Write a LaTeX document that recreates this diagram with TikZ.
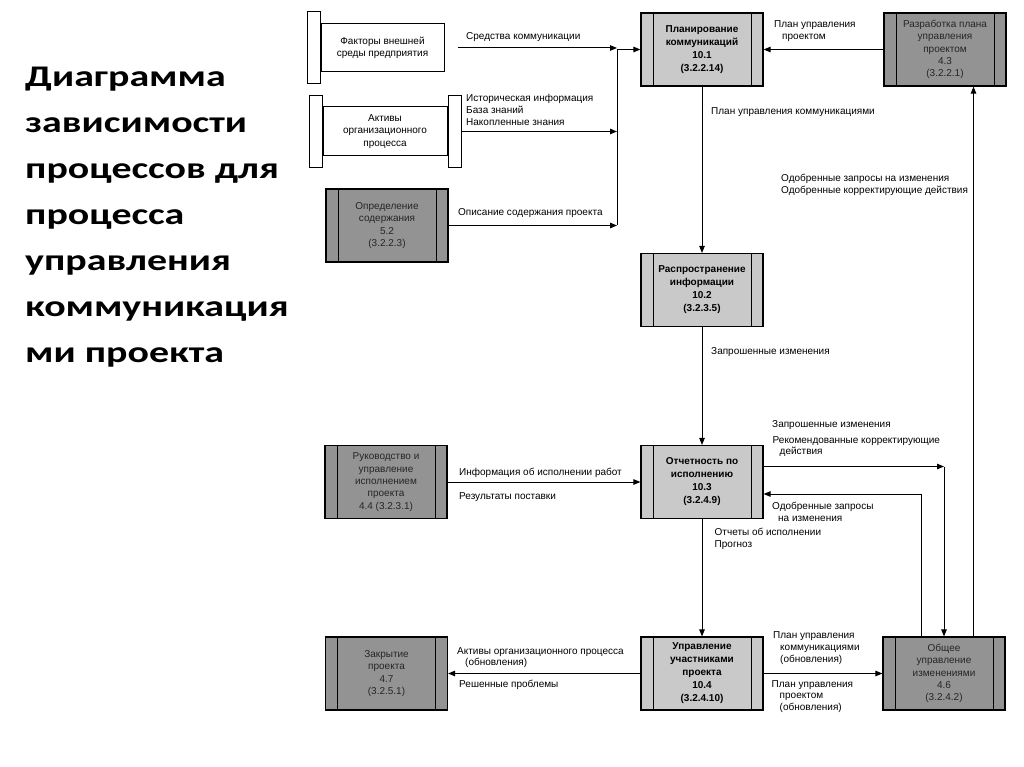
\documentclass[tikz,border=0pt]{standalone}
\usepackage{fontspec}
\setmainfont{Liberation Sans}
\newfontfamily\titlefont[FakeStretch=1.33]{Carlito}
\usetikzlibrary{arrows.meta,positioning}
\definecolor{comlight}{RGB}{201,201,201}
\definecolor{comdark}{RGB}{147,147,147}

\begin{document}
\begin{tikzpicture}[x=1pt, y=-1pt,
                    process/.style = {
                      draw, line width=1.2pt,
                      minimum width=122pt, minimum height=73pt,
                      inner sep=0pt, align=center,
                      path picture={
                        \draw[line width=1pt]
                          ([xshift=12pt]path picture bounding box.north west)
                          -- ([xshift=12pt]path picture bounding box.south west);
                        \draw[line width=1pt]
                          ([xshift=-12pt]path picture bounding box.north east)
                          -- ([xshift=-12pt]path picture bounding box.south east);
                      }
                    },
                    ours/.style = {
                      process, fill=comlight,
                      font=\fontsize{10}{13}\selectfont\bfseries
                    },
                    theirs/.style = {
                      process, fill=comdark, text=black!85,
                      font=\fontsize{10}{12.3}\selectfont
                    },
                    store/.style = {
                      draw, line width=1pt, fill=white,
                      inner sep=0pt, align=center,
                      font=\fontsize{10}{12.3}\selectfont
                    },
                    bar/.style = {
                      draw, line width=1pt, fill=white,
                      minimum width=13pt, minimum height=72pt,
                      inner sep=0pt
                    },
                    flow/.style = {
                      line width=1pt,
                      -{Triangle[length=7pt,width=5.5pt]}
                    },
                    flowtext/.style = {
                      anchor=west, inner sep=0pt, align=left,
                      font=\fontsize{10}{11.8}\selectfont
                    }]
    \useasboundingbox (0,0) rectangle (1024,767);

    \node[anchor=north west, align=left, inner sep=0pt,
          font=\titlefont\bfseries\fontsize{30}{46}\selectfont] (title) at (25,67)
      {Диаграмма\\зависимости\\процессов для\\процесса\\управления\\коммуникация\\ми проекта};

    \node[store, minimum width=123pt, minimum height=48pt] (envf) at (382.5,48)
      {Факторы внешней\\среды предприятия};
    \node[bar, left=0pt of envf] (envbar) {};
    \node[store, minimum width=124pt, minimum height=49pt] (assets) at (385,131.5)
      {Активы\\организационного\\процесса};
    \node[bar, left=0pt of assets] (assetsl) {};
    \node[bar, right=0pt of assets] (assetsr) {};
    \node[theirs] (scope) at (387,225.5) {Определение\\содержания\\5.2\\(3.2.2.3)};
    \node[theirs] (direct) at (386,482) {Руководство и\\управление\\исполнением\\проекта\\4.4 (3.2.3.1)};
    \node[theirs] (close) at (386.5,673.5) {Закрытие\\проекта\\4.7\\(3.2.5.1)};

    \node[ours] (plan) at (702,49.5) {Планирование\\коммуникаций\\10.1\\(3.2.2.14)};
    \node[ours] (distr) at (702,290) {Распространение\\информации\\10.2\\(3.2.3.5)};
    \node[ours] (report) at (702,482) {Отчетность по\\исполнению\\10.3\\(3.2.4.9)};
    \node[ours] (stake) at (702,673.5) {Управление\\участниками\\проекта\\10.4\\(3.2.4.10)};

    \node[theirs] (pmplan) at (945,49.5) {Разработка плана\\управления\\проектом\\4.3\\(3.2.2.1)};
    \node[theirs] (change) at (944,673.5) {Общее\\управление\\изменениями\\4.6\\(3.2.4.2)};

    \coordinate (merge) at (617,49.5);
    \draw[flow] ([xshift=13pt]envf.east) -- (envf.east -| merge);
    \draw[flow] (assetsr.east) -- (assetsr.east -| merge);
    \draw[flow] (scope.east) -- (scope.east -| merge);
    \draw[line width=1pt] (merge) -- (merge |- scope.east);
    \draw[flow] (merge) -- (plan.west);
    \draw[flow] (pmplan.west) -- (plan.east);
    \draw[flow] (plan.south) -- (distr.north);
    \draw[flow] (distr.south) -- (report.north);
    \draw[flow] (report.south) -- (stake.north);
    \draw[flow] (direct.east) -- (report.west);
    \draw[flow] (stake.west) -- (close.east);
    \draw[flow] (stake.east) -- (change.west);

    \coordinate (reqdown) at (944,466.5);
    \draw[flow] (report.east |- reqdown) -- (reqdown);
    \draw[flow] (reqdown) -- (change.north);
    \coordinate (apprup) at (921,494);
    \draw[flow] (apprup |- change.north) -- (apprup) -- (report.east |- apprup);
    \coordinate (toplan) at (973.5,400);
    \draw[flow] (toplan |- change.north) -- (toplan |- pmplan.south);

    \node[flowtext] (t1) at (466,37) {Средства коммуникации};
    \node[flowtext] (t2) at (466,110) {Историческая информация\\База знаний\\Накопленные знания};
    \node[flowtext] (t3) at (458,213) {Описание содержания проекта};
    \node[flowtext] (t4) at (774,31) {План управления\\\hspace*{8pt}проектом};
    \node[flowtext] (t5) at (711,112.5) {План управления коммуникациями};
    \node[flowtext] (t6) at (781,185) {Одобренные запросы на изменения\\Одобренные корректирующие действия};
    \node[flowtext] (t7) at (711,352.5) {Запрошенные изменения};
    \node[flowtext] (t8) at (772,425.5) {Запрошенные изменения};
    \node[flowtext] (t9) at (772.5,446.5) {Рекомендованные корректирующие\\\hspace*{7pt}действия};
    \node[flowtext] (t10) at (772,512) {Одобренные запросы\\\hspace*{6pt}на изменения};
    \node[flowtext] (t11) at (714.5,539) {Отчеты об исполнении\\Прогноз};
    \node[flowtext] (t12) at (459,473) {Информация об исполнении работ};
    \node[flowtext] (t13) at (459,497) {Результаты поставки};
    \node[flowtext] (t14) at (457,657.5) {Активы организационного процесса\\\hspace*{8pt}(обновления)};
    \node[flowtext] (t15) at (459,685) {Решенные проблемы};
    \node[flowtext] (t16) at (773,648) {План управления\\\hspace*{7pt}коммуникациями\\\hspace*{7pt}(обновления)};
    \node[flowtext] (t17) at (771.5,696.5) {План управления\\\hspace*{8pt}проектом\\\hspace*{8pt}(обновления)};
\end{tikzpicture}
\end{document}
